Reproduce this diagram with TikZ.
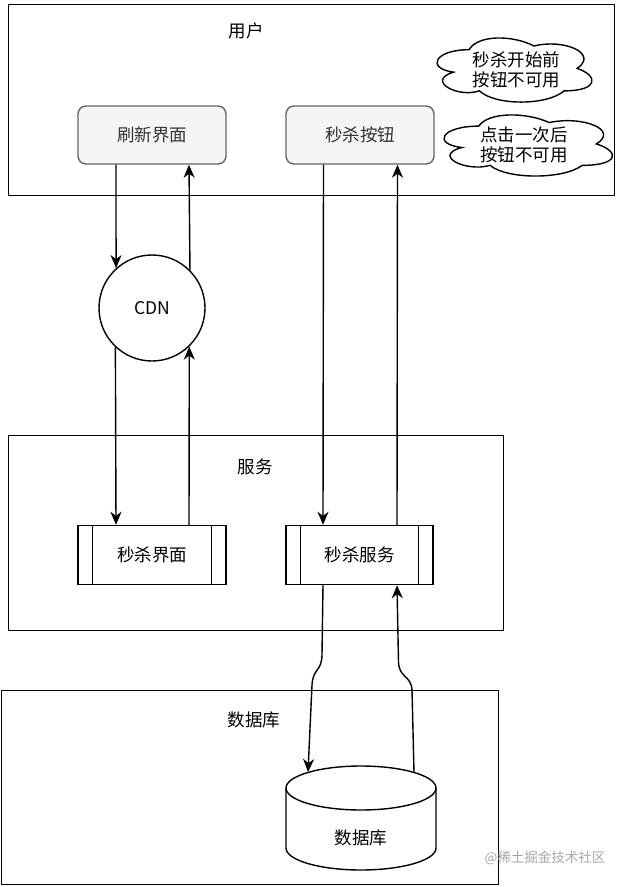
\documentclass[tikz,border=0pt]{standalone}
\usepackage{fontspec}
\setmainfont{Noto Sans CJK SC}
\usetikzlibrary{arrows.meta,calc}
\definecolor{boxgray}{HTML}{666666}
\definecolor{boxfill}{HTML}{F5F5F5}
\definecolor{txtgray}{HTML}{333333}
\definecolor{wmgray}{HTML}{A8A8A8}
\newcommand{\dcloud}[4]{%
  \draw[line width=1.4pt, fill=white]
    (#1+0.25*#3, #2+0.25*#4)
    .. controls (#1+0.05*#3, #2+0.25*#4) and (#1, #2+0.5*#4) .. (#1+0.16*#3, #2+0.55*#4)
    .. controls (#1, #2+0.66*#4) and (#1+0.18*#3, #2+0.9*#4) .. (#1+0.31*#3, #2+0.8*#4)
    .. controls (#1+0.4*#3, #2+#4) and (#1+0.7*#3, #2+#4) .. (#1+0.8*#3, #2+0.8*#4)
    .. controls (#1+#3, #2+0.8*#4) and (#1+#3, #2+0.6*#4) .. (#1+0.875*#3, #2+0.5*#4)
    .. controls (#1+#3, #2+0.3*#4) and (#1+0.8*#3, #2+0.1*#4) .. (#1+0.625*#3, #2+0.2*#4)
    .. controls (#1+0.5*#3, #2+0.05*#4) and (#1+0.3*#3, #2+0.05*#4) .. (#1+0.25*#3, #2+0.25*#4)
    -- cycle;}
\begin{document}
\begin{tikzpicture}[x=1pt,y=-1pt,
  every node/.style={font=\fontsize{17.5}{20}\selectfont, inner sep=0pt},
  container/.style={draw, line width=1.4pt, anchor=north west},
  uibox/.style={draw=boxgray, fill=boxfill, text=txtgray, line width=1.4pt,
    rounded corners=8pt, minimum width=148pt, minimum height=58pt},
  proc/.style={draw, line width=1.4pt, minimum height=59pt},
  sideline/.style={line width=1.4pt},
  arr/.style={-{Stealth[length=13pt,width=11pt,inset=4pt]}, line width=1.4pt},
  cloudtxt/.style={align=center, font=\fontsize{17.5}{20}\selectfont}
]
\useasboundingbox (0,0) rectangle (624,887);

% containers
\node[container, minimum width=606pt, minimum height=191pt] (user) at (8,4) {};
\node (userlbl) at (246,31) {用户};
\node[container, minimum width=495pt, minimum height=195pt] (svc) at (8,435) {};
\node (svclbl) at (255,467) {服务};
\node[container, minimum width=497pt, minimum height=194pt] (dbbox) at (0.7,690) {};
\node (dblbl) at (254,720) {数据库};

% UI boxes
\node[uibox] (refresh) at (152,135) {刷新界面};
\node[uibox] (button) at (360,135) {秒杀按钮};

% clouds
\dcloud{425.8}{31}{173}{74.8}
\node[cloudtxt] (cloud1) at (516.5,70) {秒杀开始前\\按钮不可用};
\dcloud{431.8}{108.3}{188}{71.3}
\node[cloudtxt] (cloud2) at (524,145) {点击一次后\\按钮不可用};

% CDN
\node[draw, circle, line width=1.4pt, minimum size=106pt] (cdn) at (152,308) {CDN};

% process boxes
\node[proc, minimum width=148pt] (page) at (152,555) {秒杀界面};
\draw[sideline] ([xshift=15pt]page.north west) -- ([xshift=15pt]page.south west);
\draw[sideline] ([xshift=-15pt]page.north east) -- ([xshift=-15pt]page.south east);
\node[proc, minimum width=147pt] (service) at (359.5,555) {秒杀服务};
\draw[sideline] ([xshift=15pt]service.north west) -- ([xshift=15pt]service.south west);
\draw[sideline] ([xshift=-15pt]service.north east) -- ([xshift=-15pt]service.south east);

% database cylinder
\draw[line width=1.4pt, fill=white] (286,788) -- (286,848)
  arc[start angle=180, end angle=360, x radius=75pt, y radius=22pt] -- (436,788);
\draw[line width=1.4pt] (361,788) ellipse[x radius=75pt, y radius=22pt];
\node (db) at (361,838) {数据库};
\coordinate (dbin) at (308,772);
\coordinate (dbout) at (414,772);

% connectors
\draw[arr] ([xshift=-36pt]refresh.south) -- (cdn.132.7);
\draw[arr] (cdn.45.8) -- ([xshift=37pt]refresh.south);
\draw[arr] (cdn.227.3) -- ([xshift=-36pt]page.north);
\draw[arr] ([xshift=37pt]page.north) -- (cdn.314.2);
\draw[arr] ([xshift=-36.5pt]button.south) -- ([xshift=-36.5pt]service.north);
\draw[arr] ([xshift=37.5pt]service.north) -- ([xshift=37.5pt]button.south);
\draw[arr] ([xshift=-36.5pt]service.south) -- (322,655)
  .. controls (321.5,672) and (313,668) .. (312,685) -- (dbin);
\draw[arr] (dbout) -- (412,690)
  .. controls (411,675) and (399,678) .. (398.5,662) -- ([xshift=37.5pt]service.south);

% watermark
\node[text=wmgray, font=\fontsize{13.5}{16}\selectfont] (wm) at (545,858) {@稀土掘金技术社区};
\end{tikzpicture}
\end{document}
